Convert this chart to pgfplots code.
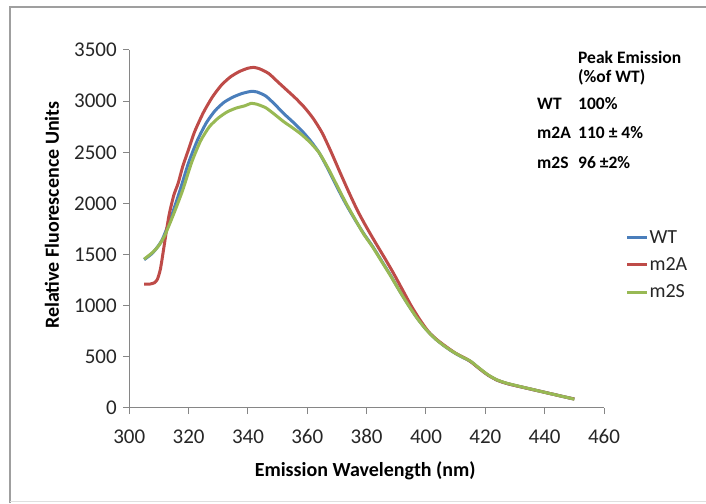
\documentclass[border=0pt]{standalone}
\usepackage{pgfplots}
\usepackage{pgfplotstable}
\pgfplotsset{compat=1.18}
\usepackage{fontspec}
\setmainfont{Carlito}
\definecolor{cWT}{HTML}{4A7EBB}
\definecolor{cA}{HTML}{BE4B48}
\definecolor{cS}{HTML}{98B954}
\definecolor{axgray}{HTML}{868686}
\definecolor{txt}{HTML}{262626}

\pgfplotstableread{
x y
305 1450
308 1520
311 1640
314 1860
317 2120
320 2400
323 2620
326 2790
329 2910
332 2990
335 3040
338 3075
341 3095
343 3090
346 3050
349 2970
352 2880
355 2800
358 2715
361 2615
364 2495
367 2335
370 2160
373 1995
376 1845
379 1705
382 1580
385 1440
388 1300
391 1150
394 1010
397 880
400 770
403 680
406 610
409 550
412 500
415 455
418 385
421 320
424 272
427 242
430 220
433 200
436 180
439 160
442 140
445 120
448 100
450 88
}\dataWT

\pgfplotstableread{
x y
305 1210
307 1212
308.5 1225
309.5 1260
310.5 1360
311.5 1540
312.5 1730
313.5 1900
315 2080
316.5 2200
318 2360
320 2530
322 2700
325 2890
328 3040
331 3155
334 3235
337 3288
340 3322
342 3330
344 3315
347 3270
350 3190
353 3110
356 3030
359 2940
362 2830
365 2690
368 2505
371 2305
374 2110
377 1925
380 1765
383 1615
386 1470
389 1320
392 1160
395 1000
398 860
401 740
404 660
407 595
410 535
413 490
415 455
418 385
421 320
424 272
427 242
430 220
433 200
436 180
439 160
442 140
445 120
448 100
450 88
}\dataA

\pgfplotstableread{
x y
305 1455
308 1525
310 1590
312 1690
315 1900
318 2130
321 2400
324 2610
327 2750
330 2835
333 2895
336 2932
339 2955
341 2978
343 2970
346 2935
349 2870
352 2800
355 2740
358 2675
361 2595
364 2495
367 2345
370 2175
373 2005
376 1850
379 1700
382 1575
385 1435
388 1295
391 1148
394 1008
397 878
400 768
403 680
406 610
409 552
412 502
415 458
418 388
421 322
424 274
427 244
430 222
433 201
436 181
439 160
442 140
445 120
448 100
450 86
}\dataS

\begin{document}
\begin{tikzpicture}[x=1pt,y=1pt]
\useasboundingbox (0,0) rectangle (706,503);
\fill[white] (0,0) rectangle (706,503);
\draw[gray!75, line width=1.2pt] (10,0) -- (10,496) -- (706,496);
\draw[gray!25, line width=1pt] (10,2) -- (706,2);
\begin{axis}[
  at={(129.3pt,95pt)}, anchor=south west,
  scale only axis, width=474.7pt, height=358pt,
  xmin=300, xmax=460, ymin=0, ymax=3500,
  xtick={300,320,...,460}, ytick={0,500,...,3500},
  axis x line*=bottom, axis y line*=left,
  axis line style={axgray, line width=1pt},
  tick style={axgray, line width=1pt},
  tick align=outside, major tick length=6pt,
  /pgf/number format/assume math mode=true,
  /pgf/number format/1000 sep={},
  ticklabel style={font=\fontsize{21}{24}\selectfont, text=txt},
  xticklabel style={yshift=-12pt},
  yticklabel style={xshift=-3pt},
  xlabel={\textbf{Emission Wavelength (nm)}},
  ylabel={\textbf{Relative Fluorescence Units}},
  label style={font=\fontsize{20}{23}\selectfont, text=black},
  xlabel style={at={(axis description cs:0.497,-0.174)}, anchor=center},
  ylabel style={at={(axis description cs:-0.163,0.539)}, anchor=center, rotate=0},
  legend style={at={(axis description cs:1.045,0.50)}, anchor=north west,
    draw=none, fill=none, font=\fontsize{20}{23}\selectfont,
    row sep=11pt, inner sep=0pt,
    nodes={inner sep=1pt, text=txt}},
  legend cell align=left,
  legend image code/.code={\draw[#1, line width=3pt] (0pt,0pt) -- (20pt,0pt);},
]
\addplot[cWT, line width=3pt, smooth, tension=0.4] table {\dataWT};
\addlegendentry{WT}
\addplot[cA, line width=3pt, smooth, tension=0.4] table {\dataA};
\addlegendentry{m2A}
\addplot[cS, line width=3pt, smooth, tension=0.4] table {\dataS};
\addlegendentry{m2S}
\end{axis}
\begin{scope}[every node/.style={font=\fontsize{17.5}{20}\selectfont\bfseries, text=black, inner sep=0pt}]
\node[anchor=west] at (578,446) {Peak Emission};
\node[anchor=west] at (578,426) {(\%of WT)};
\node[anchor=west] at (537,399) {WT};
\node[anchor=west] at (578,399) {100\%};
\node[anchor=west] at (537,370) {m2A};
\node[anchor=west] at (578,370) {110 ± 4\%};
\node[anchor=west] at (537,340) {m2S};
\node[anchor=west] at (578,340) {96 ±2\%};
\end{scope}
\end{tikzpicture}
\end{document}
